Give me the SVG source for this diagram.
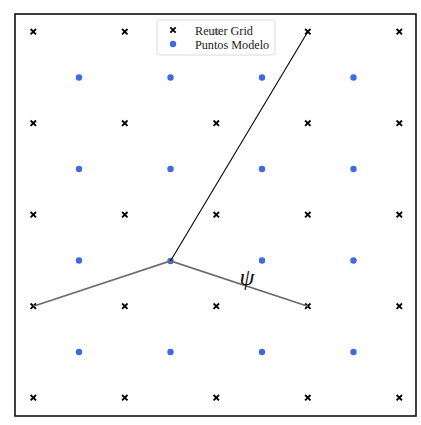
<svg xmlns="http://www.w3.org/2000/svg" width="421" height="425" viewBox="0 0 421 425">
<defs>
<style>
.x{stroke:#000;stroke-width:1.8;fill:none}
.d{fill:#4169e1}
.t{font-family:"Liberation Serif","DejaVu Serif",serif;font-size:12.2px;fill:#222}
</style>
<path id="cr" class="x" d="M-2.7,-2.7L2.7,2.7M-2.7,2.7L2.7,-2.7"/>
<circle id="dt" class="d" r="3.2"/>
</defs>
<rect x="0" y="0" width="421" height="425" fill="#fff"/>
<g id="grid">
<use href="#cr" x="33.3" y="31.7"/><use href="#cr" x="124.8" y="31.7"/><use href="#cr" x="216.3" y="31.7"/><use href="#cr" x="307.8" y="31.7"/><use href="#cr" x="399.3" y="31.7"/>
<use href="#cr" x="33.3" y="123.2"/><use href="#cr" x="124.8" y="123.2"/><use href="#cr" x="216.3" y="123.2"/><use href="#cr" x="307.8" y="123.2"/><use href="#cr" x="399.3" y="123.2"/>
<use href="#cr" x="33.3" y="214.7"/><use href="#cr" x="124.8" y="214.7"/><use href="#cr" x="216.3" y="214.7"/><use href="#cr" x="307.8" y="214.7"/><use href="#cr" x="399.3" y="214.7"/>
<use href="#cr" x="33.3" y="306.2"/><use href="#cr" x="124.8" y="306.2"/><use href="#cr" x="216.3" y="306.2"/><use href="#cr" x="307.8" y="306.2"/><use href="#cr" x="399.3" y="306.2"/>
<use href="#cr" x="33.3" y="397.7"/><use href="#cr" x="124.8" y="397.7"/><use href="#cr" x="216.3" y="397.7"/><use href="#cr" x="307.8" y="397.7"/><use href="#cr" x="399.3" y="397.7"/>
</g>
<g id="model">
<use href="#dt" x="79" y="77.5"/><use href="#dt" x="170.5" y="77.5"/><use href="#dt" x="262" y="77.5"/><use href="#dt" x="353.5" y="77.5"/>
<use href="#dt" x="79" y="169"/><use href="#dt" x="170.5" y="169"/><use href="#dt" x="262" y="169"/><use href="#dt" x="353.5" y="169"/>
<use href="#dt" x="79" y="260.5"/><use href="#dt" x="170.5" y="261"/><use href="#dt" x="262" y="260.5"/><use href="#dt" x="353.5" y="260.5"/>
<use href="#dt" x="79" y="352"/><use href="#dt" x="170.5" y="352"/><use href="#dt" x="262" y="352"/><use href="#dt" x="353.5" y="352"/>
</g>
<g id="connectors" fill="none">
<path d="M33.3,306.2L170.5,261L307.8,306.2" stroke="#6a6a6a" stroke-width="1.7"/>
<path d="M170.5,261L307.8,31.7" stroke="#000" stroke-width="1.1"/>
</g>
<text x="247" y="285" text-anchor="middle" font-family="'Liberation Serif','DejaVu Serif',serif" font-style="italic" font-size="24" fill="#111">ψ</text>
<g id="legend">
<rect x="157" y="20" width="118" height="35" rx="2.5" fill="#fff" fill-opacity="0.8" stroke="#d0d0d0" stroke-width="0.8"/>
<use href="#cr" x="173" y="30"/>
<use href="#dt" x="173" y="44"/>
<text class="t" x="195" y="34.5">Reuter Grid</text>
<text class="t" x="195" y="49">Puntos Modelo</text>
</g>
<rect x="15" y="14" width="401" height="402" fill="none" stroke="#111" stroke-width="1.6"/>
</svg>
